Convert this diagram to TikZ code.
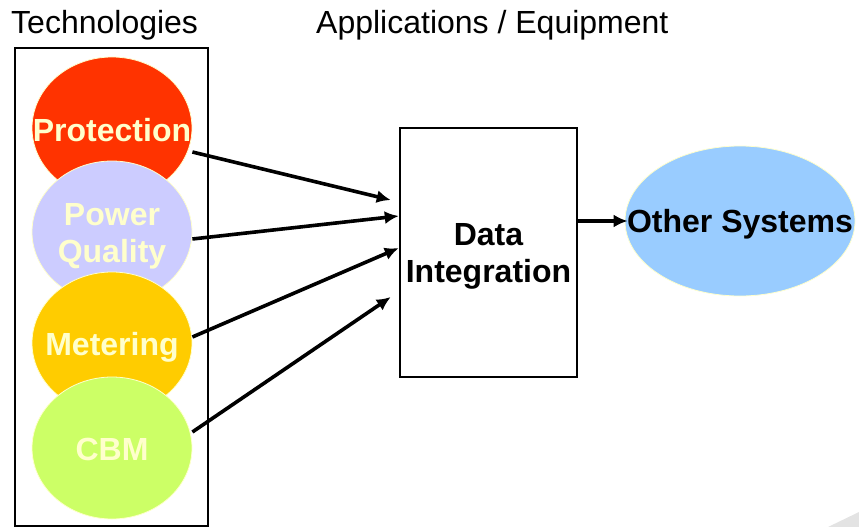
\documentclass[tikz,border=0pt]{standalone}
\usepackage{fontspec}
\setmainfont{Liberation Sans}
\usetikzlibrary{shapes.geometric,arrows.meta}

\definecolor{protred}{HTML}{FF3300}
\definecolor{pqblue}{HTML}{CCCCFF}
\definecolor{metyellow}{HTML}{FFCC00}
\definecolor{cbmgreen}{HTML}{CCFF66}
\definecolor{skyblue}{HTML}{99CCFF}
\definecolor{paleyellow}{HTML}{FFFFCC}

\tikzset{
  bigbold/.style={font=\fontsize{32}{37}\selectfont\bfseries, align=center, inner sep=0pt, yshift=-4pt},
  techball/.style={ellipse, draw=paleyellow, line width=0.8pt, inner sep=0pt,
    minimum width=160pt, minimum height=142pt},
  balltext/.style={bigbold, text=paleyellow},
  arr/.style={-{Latex[length=14pt,width=13pt]}, line width=3.6pt},
  title/.style={anchor=base west, inner sep=0pt, font=\fontsize{32}{36}\selectfont}
}

\begin{document}
\begin{tikzpicture}[x=1pt,y=-1pt]
        \useasboundingbox (0,0) rectangle (859,527);
        \fill[gray!22] (828,527) -- (859,512) -- (859,527) -- cycle;
        \node[title] (techtitle) at (11,34) {Technologies};
        \node[title] (apptitle) at (316,34) {Applications / Equipment};
        \draw[line width=2.5pt] (15,48) rectangle (208,526.5);
        \node[techball, fill=protred, label={[balltext, yshift=2pt]center:Protection}] (prot) at (112,128) {};
        \node[techball, fill=pqblue, label={[balltext]center:Power\\Quality}] (pq) at (112,232) {};
        \node[techball, fill=metyellow, label={[balltext]center:Metering}] (meter) at (112,343) {};
        \node[techball, fill=cbmgreen, label={[balltext, yshift=3pt]center:CBM}] (cbm) at (112,448) {};
        \node[draw, line width=2.5pt, minimum width=177pt, minimum height=249pt,
          label={[bigbold]center:Data\\Integration}] (integ) at (488.5,252.5) {};
        \node[techball, fill=skyblue, minimum width=230pt, minimum height=150pt,
          label={[bigbold, yshift=1pt]center:Other Systems}] (other) at (740,221) {};
        % \draw[step=10pt,gray,very thin] (0,0) grid (859,527);
        \draw[arr] ([yshift=-24pt]prot.east) -- ([xshift=-8pt,yshift=52.5pt]integ.west);
        \draw[arr] ([yshift=-7pt]pq.east) -- ([yshift=36.5pt]integ.west);
        \draw[arr] ([yshift=6pt]meter.east) -- ([yshift=4.5pt]integ.west);
        \draw[arr] ([yshift=16pt]cbm.east) -- ([xshift=-8pt,yshift=-44.5pt]integ.west);
        \draw[arr] (integ.east |- other.west) -- ([xshift=3pt]other.west);
      \end{tikzpicture}
\end{document}
